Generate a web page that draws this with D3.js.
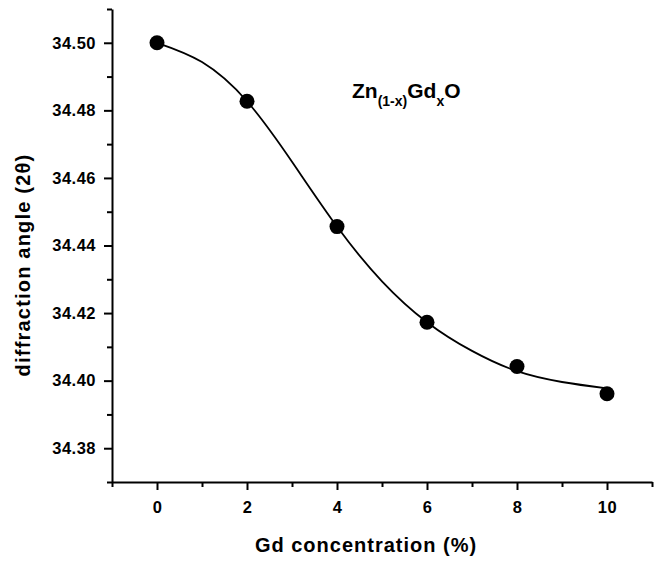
<!DOCTYPE html>
<html>
<head>
<meta charset="utf-8">
<script src="https://cdn.jsdelivr.net/npm/d3@7"></script>
<style>
  body { margin: 0; background: #fff; }
  text { font-family: "Liberation Sans", Arial, sans-serif; font-weight: bold; fill: #000; }
</style>
</head>
<body>
<div id="chart"></div>
<script>
// Gd concentration vs diffraction angle

// Measured points
var gdConc = [0, 2, 4, 6, 8, 10];
var diffAngle = [34.500, 34.4827, 34.4456, 34.4173, 34.4042, 34.3961];

// Fitted curve
var fitConc = [0, 1, 2, 3, 4, 5, 6, 7, 8, 9, 10];
var fitAngle = [34.500, 34.4943, 34.4827, 34.4648, 34.4456, 34.4294, 34.4173, 34.4088, 34.4028, 34.3996, 34.3977];

// Tick values
var xMajor = [0, 2, 4, 6, 8, 10];
var xMinor = [-1, 1, 3, 5, 7, 9, 11];
var yMajor = [34.38, 34.40, 34.42, 34.44, 34.46, 34.48, 34.50];
var yMinor = [34.37, 34.39, 34.41, 34.43, 34.45, 34.47, 34.49, 34.51];

// SVG parameter setup
var svgWidth = 663;
var svgHeight = 563;

var margin = {
    top: 9,
    right: 11,
    bottom: 81,
    left: 112
};

var width = svgWidth - margin.left - margin.right;
var height = svgHeight - margin.top - margin.bottom;

var svg = d3.select("#chart").append("svg")
    .attr("width", svgWidth)
    .attr("height", svgHeight);

var chartGroup = svg.append("g")
    .attr("transform", `translate(${margin.left}, ${margin.top})`);

// Scales
var xScale = d3.scaleLinear().domain([-1, 11]).range([0, width]);
var yScale = d3.scaleLinear().domain([34.37, 34.51]).range([height, 0]);

// Minor ticks first (no labels)
chartGroup.append("g")
    .attr("transform", `translate(0, ${height})`)
    .call(d3.axisBottom(xScale).tickValues(xMinor).tickSize(5).tickSizeOuter(0).tickFormat(""))
    .call(g => g.select(".domain").remove());

chartGroup.append("g")
    .call(d3.axisLeft(yScale).tickValues(yMinor).tickSize(5).tickSizeOuter(0).tickFormat(""))
    .call(g => g.select(".domain").remove());

// Major axes
var bottomAxis = chartGroup.append("g")
    .attr("transform", `translate(0, ${height})`)
    .call(d3.axisBottom(xScale).tickValues(xMajor).tickSize(8).tickSizeOuter(0).tickPadding(11));

var leftAxis = chartGroup.append("g")
    .call(d3.axisLeft(yScale).tickValues(yMajor).tickSize(8).tickSizeOuter(0).tickPadding(8)
        .tickFormat(d3.format(".2f")));

chartGroup.selectAll(".domain, .tick line")
    .attr("stroke", "#000")
    .attr("stroke-width", 2);

chartGroup.selectAll(".tick text")
    .style("font-size", "16.5px")
    .style("letter-spacing", "0.5px")
    .style("font-family", "'Liberation Sans', Arial, sans-serif")
    .style("font-weight", "bold");

// Fitted curve
var line = d3.line()
    .x((d, i) => xScale(fitConc[i]))
    .y(d => yScale(d))
    .curve(d3.curveNatural);

chartGroup.append("path")
    .datum(fitAngle)
    .attr("d", line)
    .attr("fill", "none")
    .attr("stroke", "#000")
    .attr("stroke-width", 1.8);

// Points
chartGroup.selectAll("circle")
    .data(diffAngle)
    .enter()
    .append("circle")
    .attr("cx", (d, i) => xScale(gdConc[i]))
    .attr("cy", d => yScale(d))
    .attr("r", 7.5)
    .attr("fill", "#000");

// Axis titles
svg.append("text")
    .attr("x", 366)
    .attr("y", 552)
    .attr("text-anchor", "middle")
    .style("font-size", "20px")
    .style("letter-spacing", "1px")
    .text("Gd concentration (%)");

svg.append("text")
    .attr("transform", "translate(30, 265) rotate(-90)")
    .attr("text-anchor", "middle")
    .style("font-size", "20px")
    .style("letter-spacing", "1.2px")
    .text("diffraction angle (2θ)");

// Compound label
var label = svg.append("text")
    .attr("x", 352)
    .attr("y", 98)
    .style("font-size", "21px");
label.append("tspan").text("Zn");
label.append("tspan").attr("dy", 8).style("font-size", "14px").text("(1-x)");
label.append("tspan").attr("dy", -8).text("Gd");
label.append("tspan").attr("dy", 8).style("font-size", "14px").text("x");
label.append("tspan").attr("dy", -8).text("O");
</script>
</body>
</html>
